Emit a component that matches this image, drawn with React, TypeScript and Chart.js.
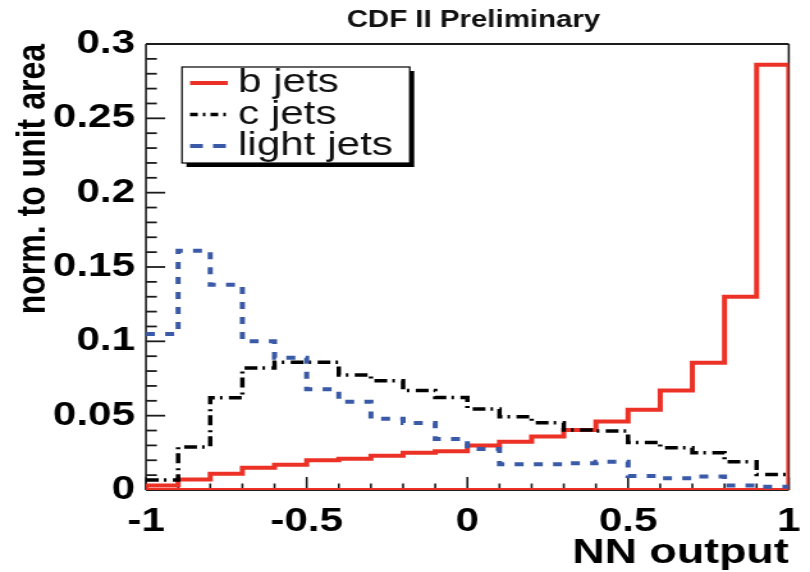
import React, { useEffect, useRef } from "react";
import { Chart, registerables } from "chart.js";

Chart.register(...registerables);

// Histogram binning: 20 equal bins of the network output
const BIN_EDGES = [
  -1, -0.9, -0.8, -0.7, -0.6, -0.5, -0.4, -0.3, -0.2, -0.1, 0,
  0.1, 0.2, 0.3, 0.4, 0.5, 0.6, 0.7, 0.8, 0.9, 1,
];

// Bin contents, normalised to unit area
const B_JETS = [
  0.003, 0.007, 0.011, 0.015, 0.017, 0.02, 0.021, 0.023, 0.025, 0.026,
  0.03, 0.0325, 0.036, 0.0403, 0.046, 0.054, 0.067, 0.0856, 0.13, 0.286,
];
const C_JETS = [
  0.0067, 0.029, 0.062, 0.082, 0.086, 0.086, 0.0773, 0.0735, 0.067, 0.0622,
  0.0545, 0.0493, 0.0453, 0.0403, 0.0397, 0.032, 0.0285, 0.0251, 0.019, 0.0105,
];
const LIGHT_JETS = [
  0.105, 0.161, 0.138, 0.1, 0.089, 0.0677, 0.0594, 0.048, 0.045, 0.0343,
  0.0276, 0.0173, 0.0173, 0.018, 0.019, 0.0094, 0.0079, 0.009, 0.003, 0.0022,
];

const SERIES_LABELS = ["b jets", "c jets", "light jets"];
const TITLE = "CDF II Preliminary";
const X_TITLE = "NN output";
const Y_TITLE = "norm. to unit area";

const X_RANGE = [-1, 1];
const Y_RANGE = [0, 0.3];
const X_LABEL_STEP = 0.5;
const Y_LABEL_STEP = 0.05;

// Canvas is drawn narrow and widened horizontally by CSS
const PAGE_W = 810;
const CH = 572;
const STRETCH = 1.28;
const CW = Math.round(PAGE_W / STRETCH);

const FONT = '"Liberation Sans", Arial, Helvetica, sans-serif';
const RED = "#ec3226";
const BLACK = "#000000";
const BLUE = "#3a5aa8";

const C_DASH = [10, 4, 2, 5];
const L_DASH = [7, 8];

// Outline of a histogram as a polyline through the bin edges
function stepOutline(values: number[], closed: boolean) {
  const pts: { x: number; y: number }[] = [];
  const n = BIN_EDGES.length - 1;
  if (closed) pts.push({ x: BIN_EDGES[0], y: 0 });
  values.forEach((v, i) => {
    pts.push({ x: BIN_EDGES[i], y: v });
    pts.push({ x: BIN_EDGES[i + 1], y: v });
  });
  if (closed) {
    pts.push({ x: BIN_EDGES[n], y: 0 });
    pts.push({ x: BIN_EDGES[0], y: 0 });
  }
  return pts;
}

function seg(ctx: CanvasRenderingContext2D, x1: number, y1: number, x2: number, y2: number) {
  ctx.beginPath();
  ctx.moveTo(x1, y1);
  ctx.lineTo(x2, y2);
  ctx.stroke();
}

// Frame with inward-pointing ticks
const framePlugin = {
  id: "histFrame",
  beforeDatasetsDraw(chart: any) {
    const { ctx, chartArea, scales } = chart;
    const { left, right, top, bottom } = chartArea;
    const xs = scales.x;
    const ys = scales.y;
    ctx.save();
    ctx.strokeStyle = "#1c1c1c";
    ctx.setLineDash([]);
    // x ticks every 0.1, long every 0.5
    ctx.lineWidth = 1.6;
    const nx = 20;
    for (let k = 0; k <= nx; k++) {
      const v = xs.min + (k * (xs.max - xs.min)) / nx;
      const px = xs.getPixelForValue(v);
      const len = k % 5 === 0 ? 13 : 6.5;
      seg(ctx, px, bottom, px, bottom - len);
    }
    // y ticks every 0.01, long every 0.05
    ctx.lineWidth = 1.8;
    const ny = 30;
    for (let k = 0; k <= ny; k++) {
      const v = ys.min + (k * (ys.max - ys.min)) / ny;
      const py = ys.getPixelForValue(v);
      const len = k % 5 === 0 ? 15 : 8.5;
      seg(ctx, left, py, left + len, py);
    }
    // frame
    ctx.lineWidth = 2;
    seg(ctx, left, top, right, top);
    seg(ctx, left, bottom, right, bottom);
    ctx.lineWidth = 1.6;
    seg(ctx, left, top, left, bottom);
    seg(ctx, right, top, right, bottom);
    ctx.restore();
  },
};

// Page title and boxed legend with a drop shadow
const legendPlugin = {
  id: "histLegend",
  afterDatasetsDraw(chart: any) {
    const { ctx } = chart;
    ctx.save();

    ctx.fillStyle = "#111";
    ctx.font = `bold 23px ${FONT}`;
    ctx.textAlign = "center";
    ctx.textBaseline = "alphabetic";
    ctx.fillText(TITLE, 370, 27);

    const x0 = 142.2;
    const y0 = 67;
    const w = 178;
    const h = 96;
    ctx.setLineDash([]);
    ctx.fillStyle = "#000";
    ctx.fillRect(x0 + 3.5, y0 + 4, w, h);
    ctx.fillStyle = "#fff";
    ctx.fillRect(x0, y0, w, h);
    ctx.strokeStyle = "#000";
    ctx.lineWidth = 1.2;
    ctx.strokeRect(x0, y0, w, h);

    const samples = [
      { color: RED, dash: [] as number[], width: 4 },
      { color: BLACK, dash: [6, 4, 2, 4], width: 3.5 },
      { color: BLUE, dash: [10, 8], width: 4 },
    ];
    SERIES_LABELS.forEach((label, i) => {
      const base = y0 + 25 + i * 31.5;
      const s = samples[i];
      ctx.strokeStyle = s.color;
      ctx.lineWidth = s.width;
      ctx.setLineDash(s.dash);
      seg(ctx, 148.5, base - 9, 178, base - 9);
      ctx.setLineDash([]);
      ctx.fillStyle = "#111";
      ctx.font = `normal 33px ${FONT}`;
      ctx.textAlign = "left";
      ctx.textBaseline = "alphabetic";
      ctx.fillText(label, 186, base);
    });
    ctx.restore();
  },
};

const fmt = (v: number | string) => {
  const n = typeof v === "number" ? v : parseFloat(v);
  return String(parseFloat(n.toFixed(2)));
};

export default function App() {
  const ref = useRef<HTMLCanvasElement>(null);

  useEffect(() => {
    if (!ref.current) return;
    const chart = new Chart(ref.current, {
      type: "line",
      data: {
        datasets: [
          {
            label: SERIES_LABELS[2],
            data: stepOutline(LIGHT_JETS, false),
            borderColor: BLUE,
            borderWidth: 4,
            borderDash: L_DASH,
            pointRadius: 0,
            tension: 0,
            fill: false,
            order: 1,
          },
          {
            label: SERIES_LABELS[1],
            data: stepOutline(C_JETS, false),
            borderColor: BLACK,
            borderWidth: 3.5,
            borderDash: C_DASH,
            pointRadius: 0,
            tension: 0,
            fill: false,
            order: 2,
          },
          {
            label: SERIES_LABELS[0],
            data: stepOutline(B_JETS, true),
            borderColor: RED,
            borderWidth: 4,
            pointRadius: 0,
            tension: 0,
            fill: false,
            order: 3,
          },
        ],
      },
      options: {
        responsive: false,
        animation: false,
        devicePixelRatio: 1,
        events: [],
        layout: { padding: { left: 0, right: CW - 789 / STRETCH, top: 44, bottom: 0 } },
        scales: {
          x: {
            type: "linear",
            min: X_RANGE[0],
            max: X_RANGE[1],
            afterFit: (scale: any) => {
              scale.height = CH - 490;
              scale.paddingLeft = 0;
              scale.paddingRight = 0;
            },
            grid: { display: false, drawTicks: false },
            border: { display: false },
            ticks: {
              stepSize: X_LABEL_STEP,
              maxRotation: 0,
              autoSkip: false,
              padding: 12,
              color: "#000",
              font: { family: FONT, size: 33, weight: "bold" },
              callback: (v: any) => fmt(v),
            },
            title: {
              display: true,
              text: X_TITLE,
              align: "end",
              color: "#000",
              font: { family: FONT, size: 35, weight: "bold", lineHeight: 1 },
              padding: { top: 0, bottom: 1 },
            },
          },
          y: {
            type: "linear",
            min: Y_RANGE[0],
            max: Y_RANGE[1],
            afterFit: (scale: any) => {
              scale.width = 146 / STRETCH;
              scale.paddingTop = 0;
              scale.paddingBottom = 0;
            },
            grid: { display: false, drawTicks: false },
            border: { display: false },
            ticks: {
              stepSize: Y_LABEL_STEP,
              autoSkip: false,
              padding: 8.5,
              color: "#000",
              font: { family: FONT, size: 33, weight: "bold" },
              callback: (v: any) => fmt(v),
            },
            title: {
              display: true,
              text: Y_TITLE,
              align: "end",
              color: "#000",
              font: { family: FONT, size: 32, weight: "bold", lineHeight: 1 },
              padding: { top: 10, bottom: 0 },
            },
          },
        },
        plugins: {
          legend: { display: false },
          tooltip: { enabled: false },
          title: { display: false },
        },
      } as any,
      plugins: [framePlugin, legendPlugin],
    });
    return () => chart.destroy();
  }, []);

  return (
    <div
      style={{
        position: "fixed",
        left: 0,
        top: 0,
        width: PAGE_W,
        height: CH,
        overflow: "hidden",
        background: "#fff",
      }}
    >
      <canvas
        ref={ref}
        width={CW}
        height={CH}
        style={{
          display: "block",
          width: `${CW}px`,
          height: `${CH}px`,
          transform: `scaleX(${PAGE_W / CW})`,
          transformOrigin: "0 0",
        }}
      />
    </div>
  );
}
